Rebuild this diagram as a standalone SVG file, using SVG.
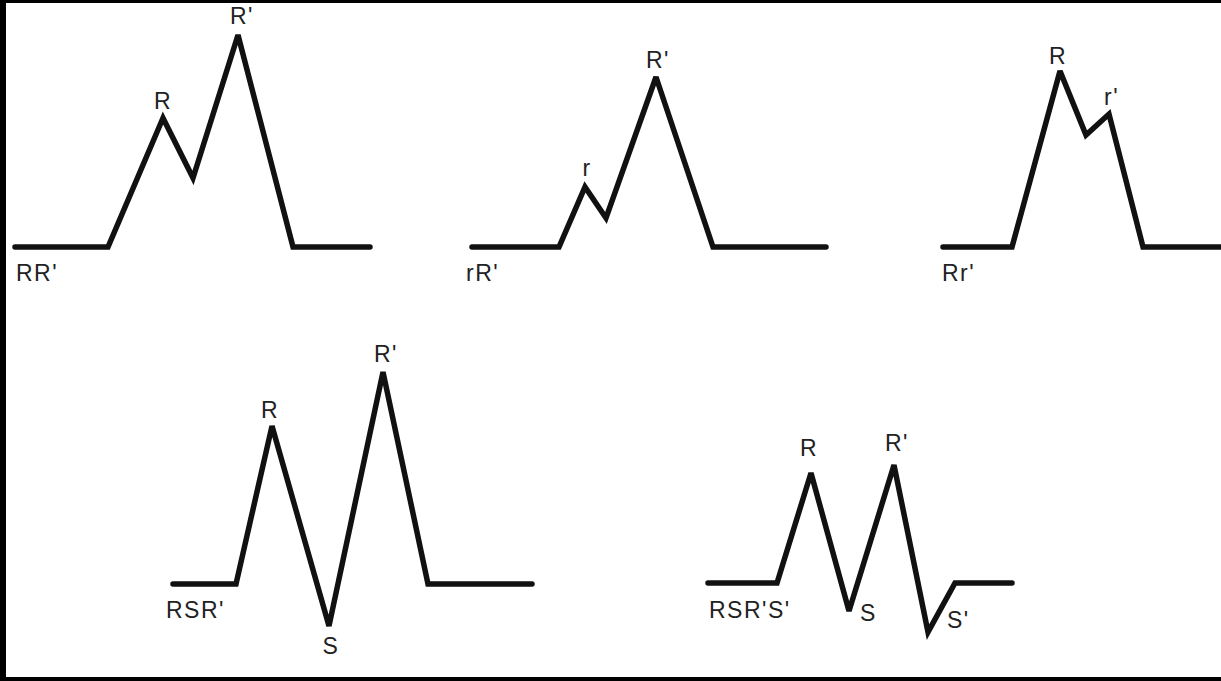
<svg xmlns="http://www.w3.org/2000/svg" width="1221" height="681" viewBox="0 0 1221 681">
<style>
.w{fill:none;stroke:#111;stroke-width:5.5;stroke-linejoin:miter;stroke-miterlimit:3;stroke-linecap:round}
text{font-family:"Liberation Sans",Arial,sans-serif;font-size:23px;fill:#222;letter-spacing:1.5px}
.c{text-anchor:middle}
</style>
<rect x="0" y="0" width="1221" height="681" fill="#fff"/>
<rect x="0" y="0" width="1221" height="3" fill="#000"/>
<rect x="0" y="0" width="6" height="681" fill="#000"/>
<rect x="0" y="677" width="1221" height="4" fill="#000"/>
<g id="connectors">
<polyline id="w1" class="w" points="15,247 108,247 163,118 193,178 238,35 293,247 370,247"/>
<polyline id="w2" class="w" points="472,247 559,247 585,187 606,218 656,77 713,247 826,247"/>
<polyline id="w3" class="w" points="943,247 1012,247 1060,71 1086,135 1109,114 1143,247 1224,247"/>
<polyline id="w4" class="w" points="173,584 236,584 272,426 329,626 383,372 428,584 532,584"/>
<polyline id="w5" class="w" points="708,583 777,583 811,473 849,611 894,465 928,632 955,583 1012,583"/>
</g>
<g id="RR">
<text x="16" y="281">RR'</text>
<text x="163" y="109" class="c">R</text>
<text x="230" y="24">R'</text>
</g>
<g id="rR">
<text x="466" y="281">rR'</text>
<text x="587" y="176" class="c">r</text>
<text x="646" y="68">R'</text>
</g>
<g id="Rr">
<text x="942" y="281">Rr'</text>
<text x="1058" y="64" class="c">R</text>
<text x="1104" y="105">r'</text>
</g>
<g id="RSR">
<text x="166" y="618">RSR'</text>
<text x="270" y="418" class="c">R</text>
<text x="374" y="362">R'</text>
<text x="331" y="654" class="c">S</text>
</g>
<g id="RSRS">
<text x="709" y="618">RSR'S'</text>
<text x="809" y="456" class="c">R</text>
<text x="885" y="451">R'</text>
<text x="860" y="621">S</text>
<text x="947" y="628">S'</text>
</g>
</svg>
